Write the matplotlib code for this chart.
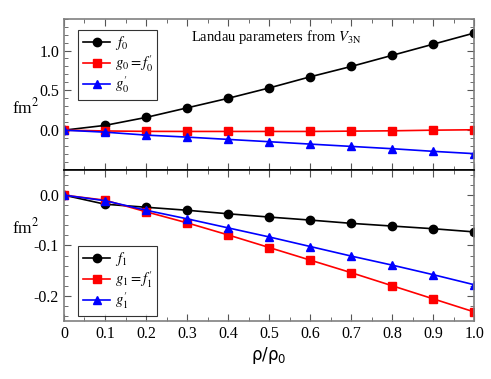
import matplotlib
matplotlib.use("Agg")
import matplotlib.pyplot as plt
from matplotlib.ticker import MultipleLocator

plt.rcParams['font.family'] = ['Liberation Serif', 'DejaVu Serif']
plt.rcParams['mathtext.fontset'] = 'stix'

rho = [0.0, 0.1, 0.2, 0.3, 0.4, 0.5, 0.6, 0.7, 0.8, 0.9, 1.0]
f0 = [0.0, 0.06, 0.16, 0.28, 0.40, 0.53, 0.67, 0.80, 0.94, 1.08, 1.22]
g0 = [0.0, -0.01, -0.015, -0.016, -0.016, -0.016, -0.016, -0.012, -0.008, 0.0, 0.005]
g0p = [0.0, -0.025, -0.062, -0.087, -0.116, -0.145, -0.175, -0.204, -0.233, -0.266, -0.295]
f1 = [0.0, -0.018, -0.024, -0.030, -0.037, -0.0435, -0.0495, -0.056, -0.0614, -0.0667, -0.073]
g1 = [0.0, -0.010, -0.033, -0.055, -0.079, -0.104, -0.129, -0.154, -0.180, -0.206, -0.232]
g1p = [0.0, -0.011, -0.030, -0.047, -0.065, -0.083, -0.102, -0.121, -0.139, -0.158, -0.178]

fig = plt.figure(figsize=(4.91, 3.79), dpi=100)
left, width = 0.1303, 0.8357
ax1 = fig.add_axes([left, 0.5515, width, 0.3992])
ax2 = fig.add_axes([left, 0.153, width, 0.3985])

ms = 6
ax1.plot(rho, f0, '-o', color='black', ms=ms, lw=1.2, label=r'$f_0$')
ax1.plot(rho, g0, '-s', color='red', ms=ms-0.5, lw=1.2, label=r"$g_0 = f_0^{\prime}$")
ax1.plot(rho, g0p, '-^', color='blue', ms=ms-0.5, lw=1.2, label=r"$g_0^{\prime}$")

ax2.plot(rho, f1, '-o', color='black', ms=ms, lw=1.2, label=r'$f_1$')
ax2.plot(rho, g1, '-s', color='red', ms=ms-0.5, lw=1.2, label=r"$g_1 = f_1^{\prime}$")
ax2.plot(rho, g1p, '-^', color='blue', ms=ms-0.5, lw=1.2, label=r"$g_1^{\prime}$")

ax1.set_xlim(0, 1.0)
ax2.set_xlim(0, 1.0)
ax1.set_ylim(-0.5, 1.4)
ax2.set_ylim(-0.25, 0.05)

for ax in (ax1, ax2):
    ax.xaxis.set_major_locator(MultipleLocator(0.1))
    ax.xaxis.set_minor_locator(MultipleLocator(0.05))
    ax.tick_params(which='both', direction='in', top=True, right=True,
                   labelsize=11.5, color='#555555')
    ax.tick_params(which='major', length=5)
    ax.tick_params(which='minor', length=3)
    for s in ax.spines.values():
        s.set_color('#808080')
        s.set_linewidth(1.2)

ax1.yaxis.set_minor_locator(MultipleLocator(0.1))
ax1.set_yticks([0.0, 0.5, 1.0])
ax1.set_yticklabels(['0.0', '0.5', '1.0'])
ax1.tick_params(labelbottom=False)
ax1.spines['bottom'].set_color('black')
ax2.spines['top'].set_color('black')

ax2.yaxis.set_minor_locator(MultipleLocator(0.02))
ax2.set_yticks([0.0, -0.1, -0.2])
ax2.set_yticklabels(['0.0', '-0.1', '-0.2'])
ax2.set_xticks(rho)
ax2.set_xticklabels(['0', '0.1', '0.2', '0.3', '0.4', '0.5', '0.6', '0.7', '0.8', '0.9', '1.0'])

ax2.set_xlabel(r'$\mathrm{\rho/\rho_0}$', fontsize=12, math_fontfamily='dejavusans', labelpad=2)

fig.text(0.025, 0.70, r'fm$^2$', fontsize=12.5)
fig.text(0.025, 0.385, r'fm$^2$', fontsize=12.5)

ax1.text(0.31, 0.88, r'Landau parameters from $V_{\mathrm{3N}}$', transform=ax1.transAxes,
         ha='left', va='center', fontsize=10.5)

leg_kw = dict(loc='upper left', fontsize=10.5, frameon=True, fancybox=False,
              edgecolor='black', handlelength=1.9, handletextpad=0.3,
              borderpad=0.3, labelspacing=0.05, borderaxespad=0.0)
l1 = ax1.legend(bbox_to_anchor=(0.035, 0.925), **leg_kw)
l2 = ax2.legend(bbox_to_anchor=(0.035, 0.497), **leg_kw)
for l in (l1, l2):
    l.get_frame().set_linewidth(0.8)

fig.savefig('out.png', dpi=100)
